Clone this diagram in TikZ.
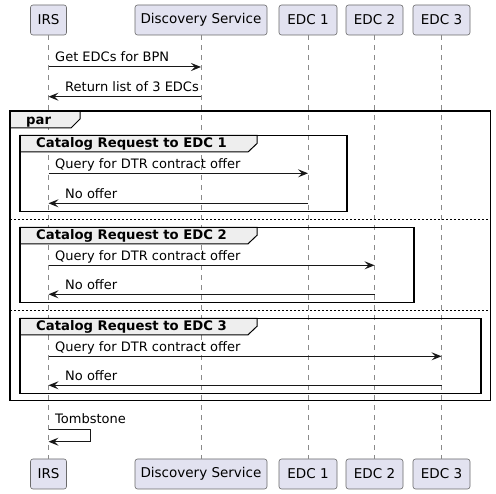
\documentclass[tikz,border=0pt]{standalone}
\usepackage{fontspec}
\setmainfont{DejaVu Sans}
\usetikzlibrary{arrows.meta}
\definecolor{partfill}{HTML}{E2E2F0}
\definecolor{ink}{HTML}{181818}
\definecolor{partline}{HTML}{6A6A6A}
\definecolor{lifeline}{HTML}{8A8A8A}
\definecolor{tabfill}{HTML}{EEEEEE}
\tikzset{
  part/.style={draw=partline, line width=0.6pt, fill=partfill, rounded corners=2.5pt,
    minimum height=30pt, inner sep=0pt, font=\fontsize{13.5}{16}\selectfont, text=black},
  life/.style={draw=lifeline, line width=0.6pt, dash pattern=on 5pt off 5pt},
  msg/.style={draw=ink, line width=1pt, -{Stealth[length=10pt,width=8pt,inset=4pt]}},
  lbl/.style={anchor=base west, inner sep=0pt, font=\fontsize{13}{15}\selectfont, text=black},
  grp/.style={draw=black, line width=1.5pt},
  tabbox/.style={draw=black, line width=1pt, fill=tabfill},
  glbl/.style={anchor=base west, inner sep=0pt, font=\fontsize{13.2}{15}\selectfont\bfseries, text=black},
  sep/.style={draw=black, line width=1pt, dash pattern=on 2pt off 2pt}
}
\begin{document}
\begin{tikzpicture}[x=1pt,y=-1pt]
\useasboundingbox[fill=white] (0,0) rectangle (496,494);
% participants (top and bottom)
\node[part, minimum width=36pt]  (irsT) at (48.5,20) {IRS};
\node[part, minimum width=132pt] (dsT)  at (201,20) {Discovery Service};
\node[part, minimum width=58pt]  (e1T)  at (308,20) {EDC 1};
\node[part, minimum width=57pt]  (e2T)  at (374.5,20) {EDC 2};
\node[part, minimum width=57pt]  (e3T)  at (441.5,20) {EDC 3};
\node[part, minimum width=36pt]  (irsB) at (48.5,474) {IRS};
\node[part, minimum width=132pt] (dsB)  at (201,474) {Discovery Service};
\node[part, minimum width=58pt]  (e1B)  at (308,474) {EDC 1};
\node[part, minimum width=57pt]  (e2B)  at (374.5,474) {EDC 2};
\node[part, minimum width=57pt]  (e3B)  at (441.5,474) {EDC 3};
% lifelines
\draw[life] (irsT.south) -- (irsB.north);
\draw[life] (dsT.south) -- (dsB.north);
\draw[life] (e1T.south) -- (e1B.north);
\draw[life] (e2T.south) -- (e2B.north);
\draw[life] (e3T.south) -- (e3B.north);
% messages to discovery
\draw[msg] (irsT |- 0,67) -- (dsT |- 0,67);
\node[lbl] (l1) at (55,62) {Get EDCs for BPN};
\draw[msg] (dsT |- 0,96.7) -- (irsT |- 0,96.7);
\node[lbl] (l2) at (65,91.7) {Return list of 3 EDCs};
% par frame
\draw[tabbox] (10,111) -- (80,111) -- (80,119) -- (71,128) -- (10,128) -- cycle;
\node[glbl] (par) at (26,125) {par};
\draw[grp] (10,111) rectangle (490.5,400.5);
% group 1
\draw[tabbox] (20,135.5) -- (257,135.5) -- (257,143.5) -- (248,152) -- (20,152) -- cycle;
\draw[grp] (20,135.5) rectangle (347,211.5);
\node[glbl] (g1) at (36,148) {Catalog Request to EDC 1};
\draw[msg] (irsT |- 0,173.3) -- (e1T |- 0,173.3);
\node[lbl] (q1) at (55,168.3) {Query for DTR contract offer};
\draw[msg] (e1T |- 0,203.3) -- (irsT |- 0,203.3);
\node[lbl] (n1) at (65,198.3) {No offer};
\draw[sep] (10,219.3) -- (490.5,219.3);
% group 2
\draw[tabbox] (20,227.3) -- (257,227.3) -- (257,235.3) -- (248,243.8) -- (20,243.8) -- cycle;
\draw[grp] (20,227.3) rectangle (414,302.3);
\node[glbl] (g2) at (36,239.8) {Catalog Request to EDC 2};
\draw[msg] (irsT |- 0,265.3) -- (e2T |- 0,265.3);
\node[lbl] (q2) at (55,260.3) {Query for DTR contract offer};
\draw[msg] (e2T |- 0,294.3) -- (irsT |- 0,294.3);
\node[lbl] (n2) at (65,289.3) {No offer};
\draw[sep] (10,310.3) -- (490.5,310.3);
% group 3
\draw[tabbox] (20,318.3) -- (257,318.3) -- (257,326.3) -- (248,334.8) -- (20,334.8) -- cycle;
\draw[grp] (20,318.3) rectangle (481,393.3);
\node[glbl] (g3) at (36,330.8) {Catalog Request to EDC 3};
\draw[msg] (irsT |- 0,356.3) -- (e3T |- 0,356.3);
\node[lbl] (q3) at (55,351.3) {Query for DTR contract offer};
\draw[msg] (e3T |- 0,385.3) -- (irsT |- 0,385.3);
\node[lbl] (n3) at (65,380.3) {No offer};
% tombstone self message
\coordinate (selfR) at (90.3,435.5);
\draw[msg] (irsT |- 0,429.3) -- (selfR |- 0,429.3) -- (selfR |- 0,441.7) -- (irsT |- 0,441.7);
\node[lbl] (tomb) at (55,423.5) {Tombstone};
\end{tikzpicture}
\end{document}
